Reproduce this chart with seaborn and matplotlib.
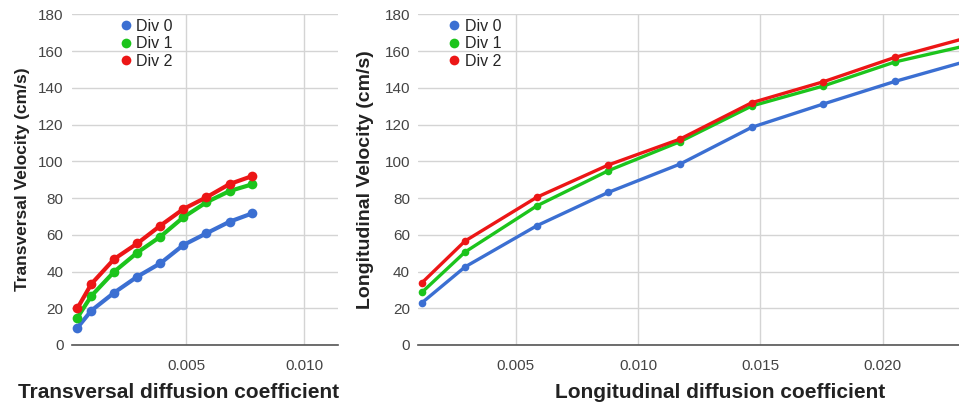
import numpy as np
import pandas as pd
import matplotlib
matplotlib.use("Agg")
import matplotlib.pyplot as plt
from matplotlib.lines import Line2D
from matplotlib.ticker import FixedLocator, FormatStrFormatter
import seaborn as sns

# Transversal diffusion sweep
trans_coef = [0.00039, 0.00098, 0.00195, 0.00293, 0.00391, 0.00488, 0.00586, 0.00684, 0.00781]
trans_div0 = [9.4, 18.7, 28.5, 37.2, 44.5, 54.4, 60.8, 67.1, 71.7]
trans_div1 = [14.9, 26.7, 39.9, 50.3, 59.0, 69.5, 77.7, 83.8, 87.5]
trans_div2 = [20.0, 33.2, 46.8, 55.3, 65.0, 74.0, 80.4, 87.6, 92.0]

# Longitudinal diffusion sweep
long_coef = [0.00117, 0.00293, 0.00586, 0.00879, 0.01172, 0.01465, 0.01758, 0.02051, 0.02344]
long_div0 = [23.0, 42.5, 64.9, 83.1, 98.5, 118.5, 131.2, 143.5, 154.5]
long_div1 = [28.7, 50.6, 75.7, 94.9, 110.7, 130.1, 141.0, 154.1, 163.0]
long_div2 = [33.9, 56.6, 80.4, 98.0, 112.1, 131.9, 143.3, 156.6, 167.2]

series_names = ["Div 0", "Div 1", "Div 2"]
series_colors = ["#3b6fd2", "#1cc41c", "#ec1616"]
y_ticks = [0, 20, 40, 60, 80, 100, 120, 140, 160, 180]
trans_xticks = [0.005, 0.010]
long_xticks = [0.005, 0.010, 0.015, 0.020]


def to_frame(coef, *series):
    rows = []
    for name, vals in zip(series_names, series):
        for c, v in zip(coef, vals):
            rows.append({"coef": c, "velocity": v, "series": name})
    return pd.DataFrame(rows)


sns.set_theme(style="white")
plt.rcParams["font.family"] = ["Liberation Sans", "DejaVu Sans"]

fig = plt.figure(figsize=(9.59, 4.11), dpi=100)
ax_t = fig.add_axes([0.0748, 0.1606, 0.2780, 0.8046])
ax_l = fig.add_axes([0.4362, 0.1606, 0.5638, 0.8046])

palette = dict(zip(series_names, series_colors))

sns.lineplot(data=to_frame(trans_coef, trans_div0, trans_div1, trans_div2),
             x="coef", y="velocity", hue="series", palette=palette,
             marker="o", markersize=7, markeredgewidth=0, linewidth=3,
             legend=False, ax=ax_t, sort=False)
sns.lineplot(data=to_frame(long_coef, long_div0, long_div1, long_div2),
             x="coef", y="velocity", hue="series", palette=palette,
             marker="o", markersize=5.5, markeredgewidth=0, linewidth=2.4,
             legend=False, ax=ax_l, sort=False)

setups = [
    (ax_t, (0.00015, 0.01145), trans_xticks, "Transversal diffusion coefficient",
     "Transversal Velocity (cm/s)", 12.5, 0.40, -0.186, 0.181),
    (ax_l, (0.00102, 0.02312), long_xticks, "Longitudinal diffusion coefficient",
     "Longitudinal Velocity (cm/s)", 14, 0.558, -0.097, 0.056),
]

for ax, xlim, xt, xlabel, ylabel, ysize, xlab_x, ylab_x, leg_x in setups:
    ax.set_xlim(*xlim)
    ax.set_ylim(0, 180)
    ax.xaxis.set_major_locator(FixedLocator(xt))
    ax.xaxis.set_major_formatter(FormatStrFormatter("%.3f"))
    ax.yaxis.set_major_locator(FixedLocator(y_ticks))
    ax.grid(True, color="#d4d4d4", linewidth=1)
    ax.set_axisbelow(True)
    for side in ["top", "right", "left"]:
        ax.spines[side].set_visible(False)
    ax.spines["bottom"].set_color("#555555")
    ax.spines["bottom"].set_linewidth(1.2)
    ax.tick_params(axis="both", length=0, labelsize=11, colors="#444444")
    ax.tick_params(axis="x", pad=10)
    ax.tick_params(axis="y", pad=6)
    ax.set_xlabel(xlabel, fontsize=15, fontweight="bold", color="#222222")
    ax.xaxis.label.set_va("center")
    ax.xaxis.set_label_coords(xlab_x, -0.145)
    ax.set_ylabel(ylabel, fontsize=ysize, fontweight="bold", color="#222222")
    ax.yaxis.label.set_va("center")
    ax.yaxis.set_label_coords(ylab_x, 0.5)

    handles = [Line2D([], [], marker="o", linestyle="", color=c, markersize=7,
                      markeredgewidth=0) for c in series_colors]
    ax.legend(handles, series_names, loc="upper left", bbox_to_anchor=(leg_x, 0.986),
              frameon=False, fontsize=11.5, handlelength=0.7, handletextpad=0.3,
              labelspacing=0.15, borderpad=0, borderaxespad=0)

fig.savefig("out.png", dpi=100)
